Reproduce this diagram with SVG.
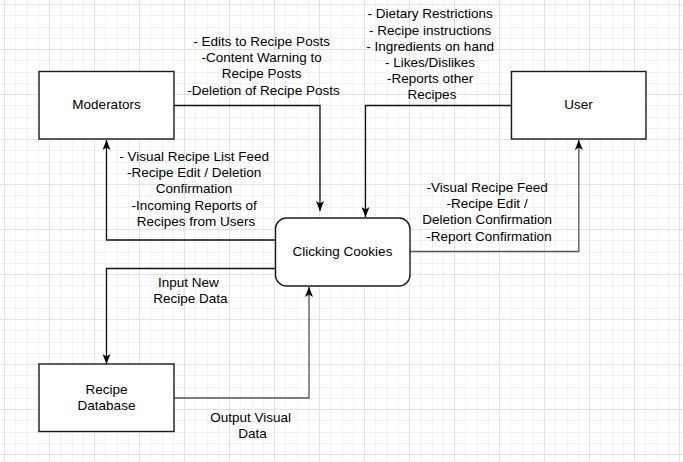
<svg xmlns="http://www.w3.org/2000/svg" width="683" height="462" viewBox="0 0 683 462">
  <defs>
    <pattern id="grid" x="4" y="4" width="45" height="45" patternUnits="userSpaceOnUse">
      <g shape-rendering="crispEdges">
        <rect x="11.25" y="0" width="1" height="45" fill="#f2f2f2"/>
        <rect x="22.5" y="0" width="1" height="45" fill="#f2f2f2"/>
        <rect x="33.75" y="0" width="1" height="45" fill="#f2f2f2"/>
        <rect x="0" y="11.25" width="45" height="1" fill="#f2f2f2"/>
        <rect x="0" y="22.5" width="45" height="1" fill="#f2f2f2"/>
        <rect x="0" y="33.75" width="45" height="1" fill="#f2f2f2"/>
        <rect x="0" y="0" width="1" height="45" fill="#e2e2e2"/>
        <rect x="0" y="0" width="45" height="1" fill="#e2e2e2"/>
      </g>
    </pattern>
    <marker id="arrow" viewBox="0 0 10 8" refX="10" refY="4" markerWidth="10" markerHeight="8" markerUnits="userSpaceOnUse" orient="auto">
      <path d="M0,0 L10,4 L0,8 L2.5,4 Z" fill="#000"/>
    </marker>
  </defs>
  <style>
    text { font-family: "Liberation Sans", Arial, sans-serif; font-size: 13.5px; fill: #000; }
    .node { fill: #fff; stroke: #1a1a1a; stroke-width: 1.4; }
    .edge { fill: none; stroke: #111; stroke-width: 1.3; marker-end: url(#arrow); }
    .grey { stroke: #555; }
    .lbl { text-anchor: middle; }
  </style>
  <rect width="683" height="462" fill="#fff"/>
  <rect width="683" height="462" fill="url(#grid)"/>

  <g id="connectors">
    <path class="edge" d="M174,105.5 H320 V211"/>
    <path class="edge" d="M511.5,105.5 H365.5 V217"/>
    <path class="edge" d="M275.5,240 H106.5 V140"/>
    <path class="edge grey" d="M410,251.5 H578.8 V140"/>
    <path class="edge" d="M275.5,268.5 H106.5 V364"/>
    <path class="edge grey" d="M174,398 H309 V287"/>
  </g>

  <g id="moderators">
    <rect class="node" x="39" y="71.5" width="135" height="67.5"/>
    <text class="lbl" x="106.5" y="109">Moderators</text>
  </g>
  <g id="user">
    <rect class="node" x="511.5" y="71.5" width="134.5" height="67.5"/>
    <text class="lbl" x="578.5" y="109">User</text>
  </g>
  <g id="clicking-cookies">
    <rect class="node" x="275.5" y="218" width="134.5" height="68" rx="11" ry="11"/>
    <text class="lbl" x="342.5" y="255.8">Clicking Cookies</text>
  </g>
  <g id="recipe-database">
    <rect class="node" x="39" y="364" width="135" height="67.5"/>
    <text class="lbl" x="106.5" y="394">Recipe</text>
    <text class="lbl" x="106.5" y="410">Database</text>
  </g>

  <g id="labels">
    <text class="lbl">
      <tspan x="263.5" y="46">- Edits to Recipe Posts</tspan>
      <tspan x="263.5" y="62.2">-Content Warning to</tspan>
      <tspan x="263.5" y="78.4">Recipe Posts</tspan>
      <tspan x="263.5" y="94.6">-Deletion of Recipe Posts</tspan>
    </text>
    <text class="lbl">
      <tspan x="432" y="18.3">- Dietary Restrictions</tspan>
      <tspan x="432" y="34.5">- Recipe instructions</tspan>
      <tspan x="432" y="50.7">- Ingredients on hand</tspan>
      <tspan x="432" y="66.9">- Likes/Dislikes</tspan>
      <tspan x="432" y="83.1">-Reports other</tspan>
      <tspan x="432" y="99.3">Recipes</tspan>
    </text>
    <text class="lbl">
      <tspan x="196" y="161">- Visual Recipe List Feed</tspan>
      <tspan x="196" y="177.2">-Recipe Edit / Deletion</tspan>
      <tspan x="196" y="193.4">Confirmation</tspan>
      <tspan x="196" y="209.6">-Incoming Reports of</tspan>
      <tspan x="196" y="225.8">Recipes from Users</tspan>
    </text>
    <text class="lbl">
      <tspan x="489" y="192">-Visual Recipe Feed</tspan>
      <tspan x="489" y="208.2">-Recipe Edit /</tspan>
      <tspan x="489" y="224.4">Deletion Confirmation</tspan>
      <tspan x="489" y="240.6">-Report Confirmation</tspan>
    </text>
    <text class="lbl">
      <tspan x="190.3" y="287">Input New</tspan>
      <tspan x="190.3" y="303.2">Recipe Data</tspan>
    </text>
    <text class="lbl">
      <tspan x="252.6" y="421.5">Output Visual</tspan>
      <tspan x="252.6" y="437.7">Data</tspan>
    </text>
  </g>
</svg>
